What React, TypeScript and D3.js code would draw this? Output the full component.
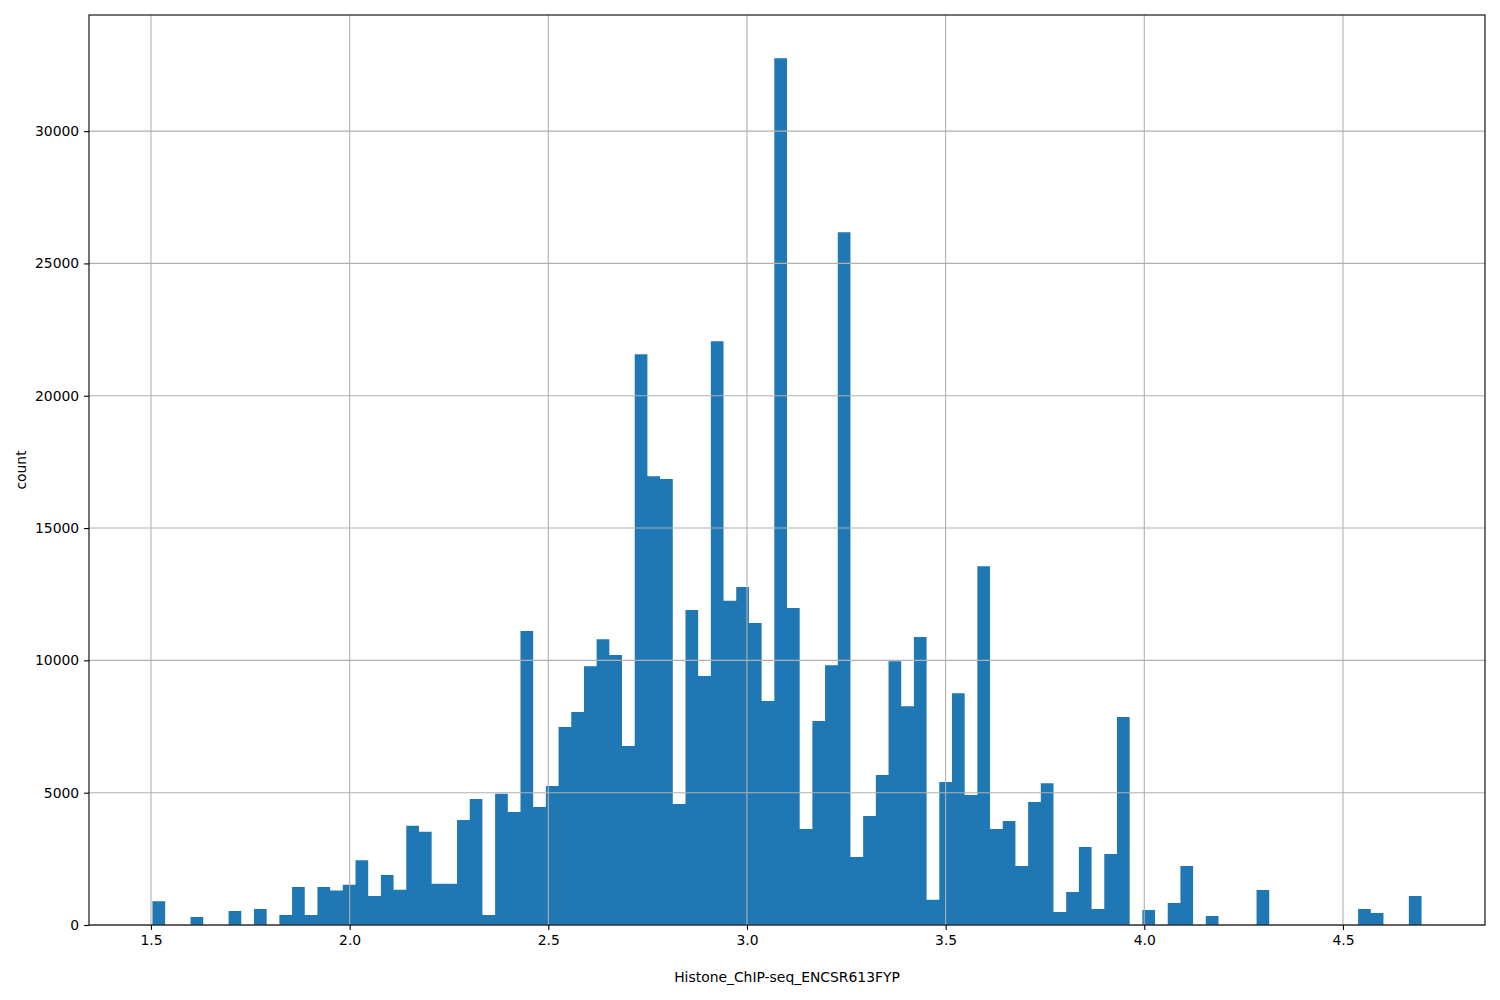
import * as d3 from 'd3';
import React, {useEffect, useRef} from 'react';

// histogram range (100 equal bins between these edges)
const binStart = 1.5037;
const binEnd = 4.6978;

const counts: number[] = [
  900, 0, 0, 300, 0, 0, 530, 0, 600, 0,
  380, 1440, 380, 1440, 1300, 1520, 2450, 1100, 1890, 1330,
  3750, 3520, 1560, 1560, 3970, 4760, 380, 4960, 4270, 11110,
  4460, 5250, 7480, 8050, 9780, 10800, 10200, 6760, 21570, 16960,
  16850, 4570, 11900, 9410, 22060, 12250, 12770, 11410, 8460, 32750,
  11980, 3630, 7710, 9820, 26180, 2570, 4120, 5670, 9970, 8270,
  10880, 950, 5400, 8760, 4910, 13560, 3630, 3930, 2230, 4650,
  5360, 490, 1250, 2950, 600, 2680, 7860, 0, 570, 0,
  830, 2230, 0, 340, 0, 0, 0, 1320, 0, 0,
  0, 0, 0, 0, 0, 600, 450, 0, 0, 1100,
];

const xTicks = [1.5, 2.0, 2.5, 3.0, 3.5, 4.0, 4.5];
const yTicks = [0, 5000, 10000, 15000, 20000, 25000, 30000];

const xLabel = 'Histone_ChIP-seq_ENCSR613FYP';
const yLabel = 'count';

const Histogram: React.FC = () => {
  const svgRef = useRef<SVGSVGElement>(null);

  useEffect(() => {
    const width = 1500;
    const height = 1000;
    const left = 89, right = 1485, top = 15, bottom = 925;
    const font = '"DejaVu Sans", sans-serif';

    const svg = d3.select(svgRef.current);
    svg.selectAll('*').remove();

    const n = counts.length;
    const binW = (binEnd - binStart) / n;
    const bins = counts.map((c, i) => ({x0: binStart + i * binW, x1: binStart + (i + 1) * binW, c}));

    const pad = (binEnd - binStart) * 0.05;
    const x = d3.scaleLinear().domain([binStart - pad, binEnd + pad]).range([left, right]);
    const yMax = d3.max(counts) as number;
    const y = d3.scaleLinear().domain([0, yMax * 1.05]).range([bottom, top]);

    svg.append('rect').attr('width', width).attr('height', height).attr('fill', '#fff');

    // one path for all bars so neighbouring bins don't show seams
    const barPath = d3.path();
    bins.filter(b => b.c > 0).forEach(b => {
      barPath.rect(x(b.x0), y(b.c), x(b.x1) - x(b.x0), y(0) - y(b.c));
    });
    svg.append('path')
      .attr('d', barPath.toString())
      .attr('fill', '#1f77b4')
      .attr('fill-rule', 'nonzero');

    // grid on top of patches, like matplotlib default
    const grid = svg.append('g').attr('stroke', '#b0b0b0').attr('stroke-width', 1.1);
    xTicks.forEach(t => {
      grid.append('line').attr('x1', x(t)).attr('x2', x(t)).attr('y1', top).attr('y2', bottom);
    });
    yTicks.forEach(t => {
      grid.append('line').attr('x1', left).attr('x2', right).attr('y1', y(t)).attr('y2', y(t));
    });

    const xAxis = svg.append('g')
      .attr('transform', `translate(0,${bottom})`)
      .call(d3.axisBottom(x).tickValues(xTicks).tickFormat(d3.format('.1f')).tickSize(4.9).tickPadding(4.9).tickSizeOuter(0));
    const yAxis = svg.append('g')
      .attr('transform', `translate(${left},0)`)
      .call(d3.axisLeft(y).tickValues(yTicks).tickFormat(d3.format('d')).tickSize(4.9).tickPadding(4.9).tickSizeOuter(0));

    [xAxis, yAxis].forEach(a => {
      a.select('.domain').remove();
      a.selectAll('line').attr('stroke', '#000').attr('stroke-width', 1.1);
      a.selectAll('text').attr('fill', '#000').style('font-family', font).style('font-size', '13.9px');
    });

    svg.append('rect')
      .attr('x', left).attr('y', top)
      .attr('width', right - left).attr('height', bottom - top)
      .attr('fill', 'none').attr('stroke', '#000').attr('stroke-width', 1.1);

    svg.append('text')
      .attr('x', (left + right) / 2)
      .attr('y', 982)
      .attr('text-anchor', 'middle')
      .style('font-family', font).style('font-size', '13.9px')
      .text(xLabel);

    svg.append('text')
      .attr('transform', `translate(26,${(top + bottom) / 2}) rotate(-90)`)
      .attr('text-anchor', 'middle')
      .style('font-family', font).style('font-size', '13.9px')
      .text(yLabel);
  }, []);

  return (
    <svg ref={svgRef} width={1500} height={1000}
      style={{position: 'absolute', left: 0, top: 0, display: 'block'}}/>
  );
};

export default function App() {
  return <Histogram/>;
}
